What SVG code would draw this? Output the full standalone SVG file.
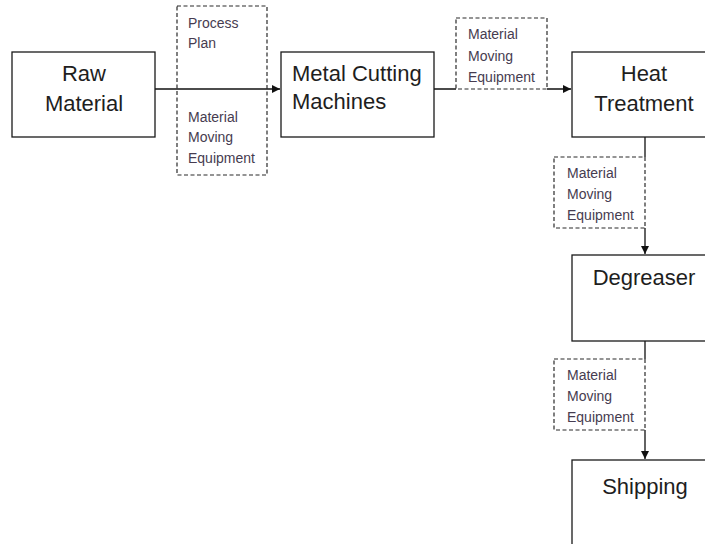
<svg xmlns="http://www.w3.org/2000/svg" width="705" height="544" viewBox="0 0 705 544">
  <style>
    .box { fill: #ffffff; stroke: #1a1a1a; stroke-width: 1.3; }
    .note { fill: none; stroke: #2a2a2a; stroke-width: 1.2; stroke-dasharray: 4 2.5; }
    .big { font-family: "Liberation Sans", Arial, sans-serif; font-size: 22px; fill: #1e1e1e; }
    .small { font-family: "Liberation Sans", Arial, sans-serif; font-size: 14px; fill: #463c50; }
    .mid { text-anchor: middle; }
    .wire { fill: none; stroke: #111111; stroke-width: 1.3; }
  </style>
  <defs>
    <marker id="arrow" markerWidth="9" markerHeight="9" refX="8" refY="4.5" orient="auto" markerUnits="userSpaceOnUse">
      <path d="M0,0.5 L8,4.5 L0,8.5 Z" fill="#111111"/>
    </marker>
  </defs>
  <rect width="705" height="544" fill="#ffffff"/>

  <g id="connectors">
    <path class="wire" d="M155,89 H280" marker-end="url(#arrow)"/>
    <path class="wire" d="M434,89 H456 M547,89 H571" marker-end="url(#arrow)"/>
    <path class="wire" d="M645,137 V157 M645,228 V254" marker-end="url(#arrow)"/>
    <path class="wire" d="M645,341 V359 M645,430 V459" marker-end="url(#arrow)"/>
  </g>

  <g id="note-process-plan">
    <rect class="note" x="177" y="6" width="90" height="169"/>
    <text class="small" x="188" y="28">Process</text>
    <text class="small" x="188" y="48">Plan</text>
    <text class="small" x="188" y="122">Material</text>
    <text class="small" x="188" y="142">Moving</text>
    <text class="small" x="188" y="163">Equipment</text>
  </g>

  <g id="note-moving-1">
    <rect class="note" x="456" y="18" width="91" height="71"/>
    <text class="small" x="468" y="39">Material</text>
    <text class="small" x="468" y="61">Moving</text>
    <text class="small" x="468" y="82">Equipment</text>
  </g>

  <g id="note-moving-2">
    <rect class="note" x="554" y="157" width="91" height="71"/>
    <text class="small" x="567" y="178">Material</text>
    <text class="small" x="567" y="199">Moving</text>
    <text class="small" x="567" y="220">Equipment</text>
  </g>

  <g id="note-moving-3">
    <rect class="note" x="554" y="359" width="91" height="71"/>
    <text class="small" x="567" y="380">Material</text>
    <text class="small" x="567" y="401">Moving</text>
    <text class="small" x="567" y="422">Equipment</text>
  </g>

  <g id="raw-material">
    <rect class="box" x="12" y="52" width="143" height="85"/>
    <text class="big mid" x="84" y="81">Raw</text>
    <text class="big mid" x="84" y="111">Material</text>
  </g>

  <g id="metal-cutting">
    <rect class="box" x="281" y="52" width="153" height="85"/>
    <text class="big" x="292" y="81">Metal Cutting</text>
    <text class="big" x="292" y="109">Machines</text>
  </g>

  <g id="heat-treatment">
    <rect class="box" x="572" y="52" width="150" height="85"/>
    <text class="big mid" x="644" y="81">Heat</text>
    <text class="big mid" x="644" y="111">Treatment</text>
  </g>

  <g id="degreaser">
    <rect class="box" x="572" y="255" width="150" height="86"/>
    <text class="big mid" x="644" y="285">Degreaser</text>
  </g>

  <g id="shipping">
    <rect class="box" x="572" y="460" width="150" height="100"/>
    <text class="big mid" x="645" y="494">Shipping</text>
  </g>
</svg>
